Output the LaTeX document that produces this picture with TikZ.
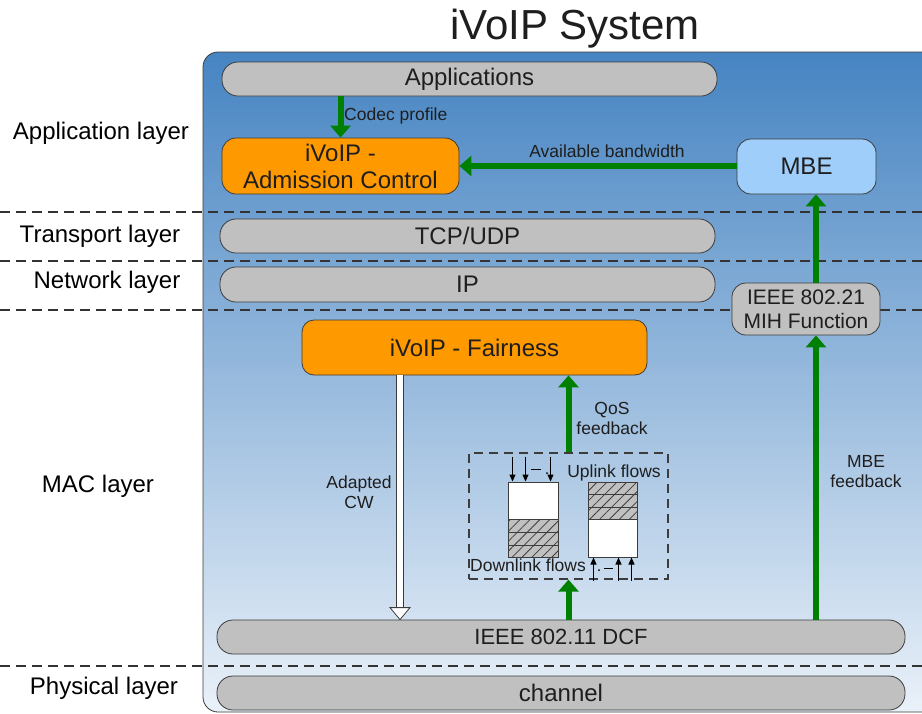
\documentclass[tikz,border=0pt]{standalone}
\usepackage{fontspec}
\setmainfont{Liberation Sans}
\usetikzlibrary{arrows.meta,calc,patterns.meta}
\definecolor{panelTop}{RGB}{70,132,194}
\definecolor{panelBot}{RGB}{234,241,249}
\definecolor{boxgray}{RGB}{192,192,192}
\definecolor{vorange}{RGB}{255,153,0}
\definecolor{mbeblue}{RGB}{160,206,250}
\definecolor{arrgreen}{RGB}{0,128,0}
\definecolor{edge}{RGB}{60,60,60}
\definecolor{txt}{RGB}{30,30,30}
\begin{document}
\begin{tikzpicture}[x=1pt,y=-1pt,
  pill/.style={draw=edge, line width=0.8pt, fill=boxgray, rounded corners=16pt, inner sep=0pt, text=txt, font=\fontsize{24}{27}\selectfont},
  obox/.style={draw=edge, line width=0.8pt, fill=vorange, rounded corners=14pt, inner sep=0pt, text=txt, font=\fontsize{24}{27}\selectfont, align=center},
  bbox/.style={draw=edge, line width=0.8pt, fill=mbeblue, rounded corners=14pt, inner sep=0pt, text=txt, font=\fontsize{24}{27}\selectfont},
  qbox/.style={draw=edge, line width=1pt, fill=white, inner sep=0pt},
  hatch/.style={draw=edge, line width=1pt, preaction={fill=boxgray}, pattern={Lines[angle=45,distance=7pt,line width=0.8pt]}, pattern color=edge},
  garrow/.style={draw=arrgreen, line width=6pt, -{Triangle[length=12pt,width=20pt]}},
  sarrow/.style={draw=black, line width=1pt, -{Triangle[length=7pt,width=6pt]}},
  sepline/.style={draw=black!80, line width=1.2pt, dash pattern=on 10pt off 6pt},
  lbl/.style={inner sep=0pt, text=txt, font=\fontsize{17.5}{20}\selectfont},
  layerlbl/.style={inner sep=0pt, text=black, font=\fontsize{24}{27}\selectfont}
]
\useasboundingbox (0,0) rectangle (922,713);
\clip (0,0) rectangle (922,713);
\fill[white] (0,0) rectangle (922,713);

% panel
\shadedraw[top color=panelTop, bottom color=panelBot, draw=edge, line width=0.8pt, rounded corners=15pt] (203,52) rectangle (945,712);

% title
\node[font=\fontsize{42}{48}\selectfont, text=txt] (title) at (575,29) {iVoIP System};

% separators
\draw[sepline] (0,212) -- (922,212);
\draw[sepline] (0,261) -- (922,261);
\draw[sepline] (0,310) -- (922,310);
\draw[sepline] (0,666) -- (922,666);

% layer labels
\node[layerlbl] (lapp) at (101,133) {Application layer};
\node[layerlbl] (ltr) at (100,236) {Transport layer};
\node[layerlbl] (lnet) at (107,282) {Network layer};
\node[layerlbl] (lmac) at (98,486) {MAC layer};
\node[layerlbl] (lphy) at (104,688) {Physical layer};

% boxes
\node[pill, minimum width=495pt, minimum height=34pt] (apps) at (469.5,79) {Applications};
\node[obox, minimum width=237pt, minimum height=56pt] (adm) at (340.5,166) {iVoIP -\\Admission Control};
\node[bbox, minimum width=139pt, minimum height=55pt] (mbe) at (806.5,166.5) {MBE};
\node[pill, minimum width=495pt, minimum height=34pt] (tcp) at (467.5,236) {TCP/UDP};
\node[pill, minimum width=495pt, minimum height=35pt] (ip) at (467.5,284.5) {IP};
\node[pill, rounded corners=14pt, minimum width=148pt, minimum height=52pt, align=center, font=\fontsize{21}{24}\selectfont] (mih) at (806,309) {IEEE 802.21\\MIH Function};
\node[obox, rounded corners=12pt, minimum width=345pt, minimum height=55pt] (fair) at (474.5,347.5) {iVoIP - Fairness};
\node[pill, minimum width=688pt, minimum height=34pt, font=\fontsize{22}{26}\selectfont] (dcf) at (561,637) {IEEE 802.11 DCF};
\node[pill, minimum width=688pt, minimum height=34pt] (chan) at (561,693) {channel};

% dashed box with queues
\node[draw=edge, line width=1.2pt, dash pattern=on 9pt off 6pt, minimum width=199pt, minimum height=126pt, inner sep=0pt] (dbox) at (568.5,516) {};
\node[qbox, minimum width=50pt, minimum height=75pt] (lq) at (533,519.5) {};
\node[qbox, minimum width=49pt, minimum height=75pt] (rq) at (612.5,519.5) {};
\draw[hatch] (508,519) rectangle (558,532);
\draw[hatch] (508,532) rectangle (558,545);
\draw[hatch] (508,545) rectangle (558,557);
\draw[hatch] (588,482) rectangle (637,494.5);
\draw[hatch] (588,494.5) rectangle (637,507);
\draw[hatch] (588,507) rectangle (637,519);

\draw[sarrow] ([xshift=5pt,yshift=25pt]lq.north west) -- ([xshift=5pt]lq.north west);
\draw[sarrow] ([xshift=18pt,yshift=25pt]lq.north west) -- ([xshift=18pt]lq.north west);
\draw[sarrow] ([xshift=43pt,yshift=25pt]lq.north west) -- ([xshift=43pt]lq.north west);
\draw[black, line width=1pt] (531,469) -- (541,469);
\fill[black] (547,473) circle (1pt);

\draw[sarrow] ([xshift=6pt,yshift=-23pt]rq.south west) -- ([xshift=6pt]rq.south west);
\draw[sarrow] ([xshift=31pt,yshift=-23pt]rq.south west) -- ([xshift=31pt]rq.south west);
\draw[sarrow] ([xshift=44pt,yshift=-23pt]rq.south west) -- ([xshift=44pt]rq.south west);
\fill[black] (599,570) circle (1pt);
\draw[black, line width=1pt] (604,568) -- (613,568);

\node[lbl] (uplbl) at (614,473) {Uplink flows};
\node[lbl] (dnlbl) at (528,565) {Downlink flows};

% connectors
\coordinate (ax) at (816,0);
\coordinate (cwx) at (400,0);
\draw[garrow] (adm.north |- apps.south) -- (adm.north);
\draw[garrow] (mbe.west |- adm.east) -- (adm.east);
\draw[garrow] (mih.north -| ax) -- (mbe.south -| ax);
\draw[garrow] (dcf.north -| ax) -- (mih.south -| ax);
\draw[garrow] (dbox.north) -- (dbox.north |- fair.south);
\draw[garrow] (dcf.north -| dbox.south) -- (dbox.south);

% adapted CW hollow arrow
\coordinate (cwtop) at (fair.south -| cwx);
\coordinate (cwbot) at (dcf.north -| cwx);
\draw[draw=edge, line width=0.8pt, double=white, double distance=5.5pt, shorten >=11pt] (cwtop) -- (cwbot);
\draw[draw=edge, fill=white, line width=0.8pt] ($(cwbot)+(-10,-12)$) -- ($(cwbot)+(10,-12)$) -- (cwbot) -- cycle;

% labels
\node[lbl, anchor=west] (codec) at (344,116) {Codec profile};
\node[lbl] (avbw) at (607,151) {Available bandwidth};
\node[lbl, align=center] (qos) at (612,418) {QoS\\feedback};
\node[lbl, align=center] (acw) at (359,492) {Adapted\\CW};
\node[lbl, align=center] (mbef) at (866,472) {MBE\\feedback};
\end{tikzpicture}
\end{document}
